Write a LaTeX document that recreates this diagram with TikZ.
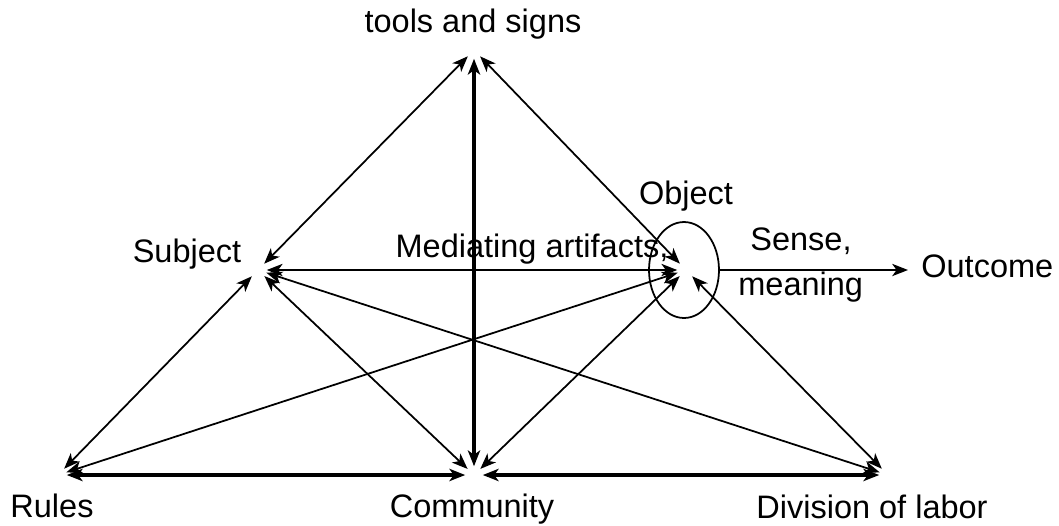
\documentclass[tikz,border=0pt]{standalone}
\usepackage{fontspec}
\setmainfont{Liberation Sans}
\usetikzlibrary{arrows.meta,shapes.geometric}

\begin{document}
\begin{tikzpicture}[x=0.02cm,y=-0.02cm,
				>={Stealth[length=9pt,width=7pt,inset=2.5pt]},
				every node/.style={font=\fontsize{18.5}{22}\selectfont,inner sep=0pt},
				txt/.style={anchor=base},
				rel/.style={<->,line width=1pt,shorten <=5pt,shorten >=5pt},
				base rel/.style={rel,line width=2pt}]
\useasboundingbox (0,0) rectangle (1059,525);
% corners of the triangle
\coordinate (T) at (474,50);
\coordinate (S) at (258,270);
\coordinate (O) at (686,270);
\coordinate (R) at (58,475);
\coordinate (C) at (474,475);
\coordinate (D) at (888,475);
% labels
\node[txt] (tools) at (473,32) {tools and signs};
\node[txt] (subj) at (187,262) {Subject};
\node[txt] (objl) at (686,204) {Object};
\node[txt] (med) at (532,257) {Mediating artifacts,};
\node[txt,anchor=base west] (sense) at (750,250) {Sense,};
\node[txt,anchor=base west] (mean) at (738,295) {meaning};
\node[txt,anchor=base west] (outc) at (921,277) {Outcome};
\node[txt] (rules) at (52,517) {Rules};
\node[txt] (comm) at (472,517) {Community};
\node[txt] (dol) at (872,518) {Division of labor};
\node[draw,ellipse,line width=1pt,minimum width=1.4cm,minimum height=1.92cm] (obj) at (684,270) {};
% connectors
\draw[rel] (T) -- (S);
\draw[rel] (T) -- (O);
\draw[base rel] (T) -- (C);
\draw[rel] (S) -- (O);
\draw[rel] (S) -- (R);
\draw[rel] (S) -- (C);
\draw[rel] (S) -- (D);
\draw[rel] (O) -- (R);
\draw[rel] (O) -- (C);
\draw[rel] (O) -- (D);
\draw[base rel] (R) -- (C);
\draw[base rel] (C) -- (D);
\draw[->,line width=1pt,shorten >=0.26cm] (obj.east) -- (outc.west |- obj.east);
\end{tikzpicture}
\end{document}
